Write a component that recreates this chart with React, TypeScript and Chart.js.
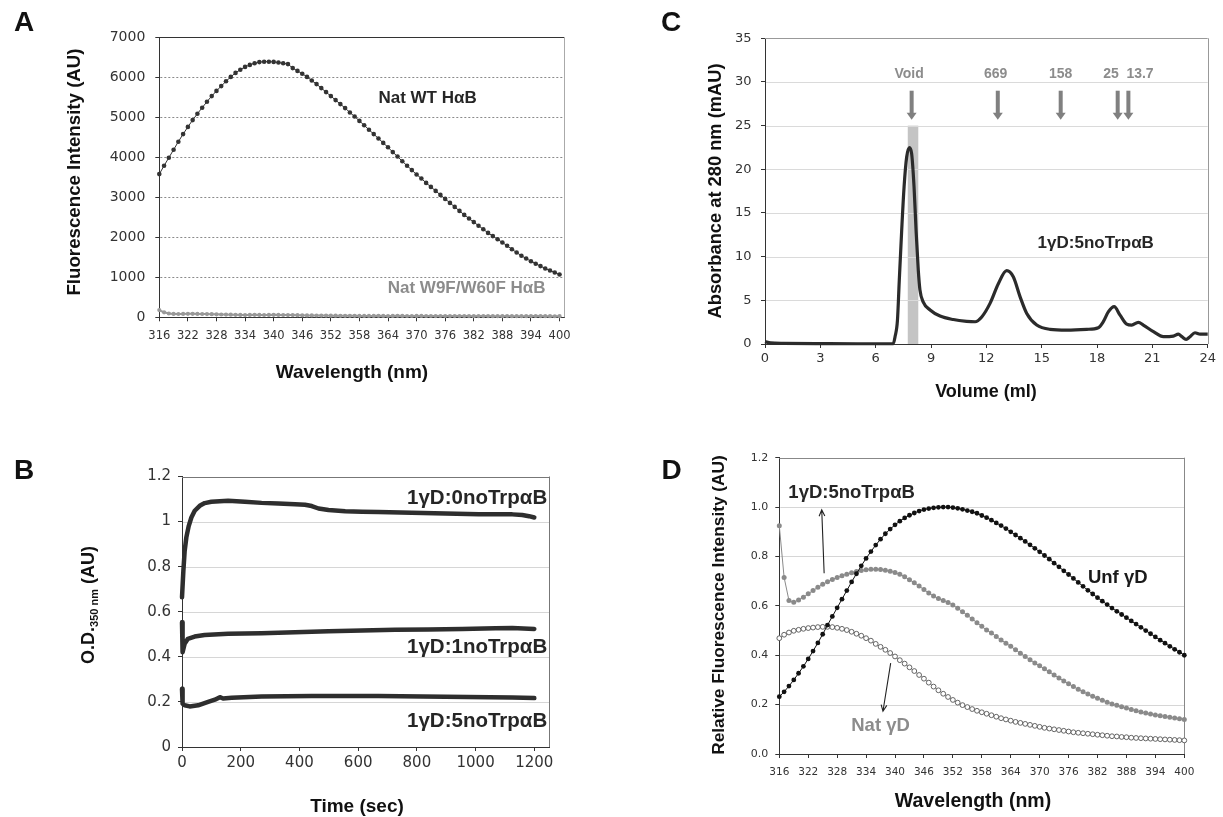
import React, { useEffect, useRef } from "react";
import { Chart, registerables } from "chart.js";
Chart.register(...registerables);

const FONT = '"Liberation Sans", Arial, Helvetica, sans-serif';
const TFONT = '"DejaVu Sans", Verdana, sans-serif';

// ---------------- Panel A ----------------
const wavelengths = [
  316, 317, 318, 319, 320, 321, 322, 323, 324, 325,
  326, 327, 328, 329, 330, 331, 332, 333, 334, 335,
  336, 337, 338, 339, 340, 341, 342, 343, 344, 345,
  346, 347, 348, 349, 350, 351, 352, 353, 354, 355,
  356, 357, 358, 359, 360, 361, 362, 363, 364, 365,
  366, 367, 368, 369, 370, 371, 372, 373, 374, 375,
  376, 377, 378, 379, 380, 381, 382, 383, 384, 385,
  386, 387, 388, 389, 390, 391, 392, 393, 394, 395,
  396, 397, 398, 399, 400,
];
const natWT = [
  3580, 3790, 3990, 4190, 4390, 4580, 4760, 4930, 5090, 5240,
  5390, 5530, 5660, 5780, 5900, 6010, 6110, 6190, 6260, 6310,
  6350, 6380, 6390, 6390, 6385, 6370, 6350, 6330, 6230, 6160,
  6090, 6010, 5920, 5830, 5730, 5630, 5530, 5430, 5330, 5230,
  5120, 5020, 4910, 4800, 4690, 4580, 4470, 4360, 4250, 4130,
  4020, 3900, 3790, 3680, 3570, 3470, 3360, 3260, 3160, 3060,
  2960, 2860, 2760, 2660, 2560, 2470, 2380, 2290, 2200, 2110,
  2030, 1950, 1870, 1790, 1700, 1620, 1540, 1470, 1400, 1340,
  1280, 1220, 1170, 1120, 1070,
];
const natW9F = [
  180, 125, 95, 85, 82, 84, 86, 88, 85, 82,
  80, 78, 74, 70, 68, 65, 62, 60, 58, 60,
  62, 60, 58, 60, 62, 60, 58, 56, 55, 52,
  50, 48, 46, 45, 44, 42, 40, 40, 38, 38,
  36, 36, 35, 35, 34, 35, 36, 34, 33, 35,
  36, 34, 33, 32, 34, 35, 33, 32, 31, 32,
  33, 31, 30, 30, 31, 30, 29, 30, 31, 30,
  29, 28, 29, 30, 29, 28, 27, 28, 30, 32,
  30, 28, 27, 26, 28,
];
const xTicksA = [316, 322, 328, 334, 340, 346, 352, 358, 364, 370, 376, 382, 388, 394, 400];
const yTicksA = [0, 1000, 2000, 3000, 4000, 5000, 6000, 7000];
const yLabelsA = ["0", "1000", "2000", "3000", "4000", "5000", "6000", "7000"];

// ---------------- Panel B ----------------
const timeTop = [0, 4.6, 9.1, 14.8, 22.8, 31.9, 43.3, 60.3, 77.4, 100, 157, 214, 271, 328, 385, 419, 442, 465, 499, 556, 613, 669, 783, 897, 1011, 1125, 1159, 1182, 1200];
const odTop = [0.664, 0.78, 0.87, 0.93, 0.98, 1.018, 1.048, 1.07, 1.082, 1.088, 1.092, 1.088, 1.083, 1.08, 1.077, 1.075, 1.069, 1.058, 1.051, 1.046, 1.044, 1.042, 1.039, 1.036, 1.033, 1.032, 1.029, 1.024, 1.018];
const timeMid = [0, 1, 3, 9, 20, 43, 77, 157, 271, 385, 499, 613, 726, 840, 954, 1068, 1125, 1200];
const odMid = [0.553, 0.47, 0.42, 0.458, 0.48, 0.49, 0.497, 0.502, 0.505, 0.509, 0.514, 0.517, 0.52, 0.521, 0.524, 0.527, 0.528, 0.524];
const timeBot = [0, 2, 9, 26, 55, 89, 112, 129, 140, 169, 271, 442, 669, 897, 1125, 1200];
const odBot = [0.258, 0.192, 0.185, 0.18, 0.185, 0.2, 0.21, 0.221, 0.215, 0.218, 0.224, 0.226, 0.226, 0.223, 0.22, 0.217];
const xTicksB = [0, 200, 400, 600, 800, 1000, 1200];
const yTicksB = [0, 0.2, 0.4, 0.6, 0.8, 1, 1.2];
const yLabelsB = ["0", "0.2", "0.4", "0.6", "0.8", "1", "1.2"];
const seriesLabelsB = ["1γD:0noTrpαB", "1γD:1noTrpαB", "1γD:5noTrpαB"];

// ---------------- Panel C ----------------
const volC = [0, 0.3, 1, 3, 5, 6.5, 6.96, 7.05, 7.18, 7.28, 7.41, 7.54, 7.68, 7.83, 7.95, 8.08, 8.19, 8.31, 8.4, 8.58, 8.95, 9.49, 10.21, 10.93, 11.39, 11.75, 12.2, 12.65, 13.1, 13.46, 13.83, 14.19, 14.73, 15.45, 16.36, 17.44, 18.07, 18.34, 18.62, 18.93, 19.25, 19.61, 19.88, 20.24, 20.51, 21.06, 21.6, 22.14, 22.41, 22.6, 22.83, 23.04, 23.31, 23.59, 24];
const absC = [0.27, 0.12, 0.08, 0.05, 0.03, 0.03, 0.05, 0.84, 2.7, 7.3, 13, 18, 21.4, 22.5, 21.8, 18, 13, 8.45, 6.2, 4.8, 3.9, 3.2, 2.8, 2.6, 2.55, 3.1, 4.65, 6.9, 8.4, 7.7, 5.4, 3.5, 2.17, 1.68, 1.6, 1.68, 1.87, 2.55, 3.7, 4.27, 3.3, 2.28, 2.17, 2.48, 2.17, 1.41, 0.84, 0.91, 1.14, 0.84, 0.53, 0.84, 1.29, 1.14, 1.14];
const markerNames = ["Void", "669", "158", "25", "13.7"];
const markerVolumes = [7.95, 12.62, 16.03, 19.12, 19.7];
const markerLabelX = [7.81, 12.5, 16.03, 18.76, 20.33];
const voidBand = [7.74, 8.31];
const xTicksC = [0, 3, 6, 9, 12, 15, 18, 21, 24];
const yTicksC = [0, 5, 10, 15, 20, 25, 30, 35];

// ---------------- Panel D ----------------
const unfGD = [
  0.232, 0.252, 0.275, 0.3, 0.327, 0.355, 0.385, 0.417, 0.45, 0.485,
  0.522, 0.557, 0.592, 0.627, 0.662, 0.697, 0.73, 0.762, 0.792, 0.82,
  0.846, 0.87, 0.892, 0.911, 0.928, 0.943, 0.956, 0.967, 0.976, 0.984,
  0.99, 0.994, 0.997, 0.999, 1.0, 1.0, 0.998, 0.995, 0.991, 0.986,
  0.981, 0.975, 0.966, 0.957, 0.947, 0.936, 0.925, 0.913, 0.9, 0.887,
  0.874, 0.861, 0.847, 0.833, 0.819, 0.804, 0.789, 0.773, 0.758, 0.742,
  0.727, 0.711, 0.695, 0.679, 0.663, 0.648, 0.633, 0.619, 0.605, 0.591,
  0.578, 0.565, 0.552, 0.539, 0.526, 0.513, 0.5, 0.487, 0.474, 0.461,
  0.449, 0.436, 0.424, 0.412, 0.4,
];
const mix15 = [
  0.924, 0.715, 0.622, 0.615, 0.624, 0.635, 0.649, 0.662, 0.675, 0.687,
  0.698, 0.707, 0.715, 0.722, 0.728, 0.734, 0.739, 0.743, 0.746, 0.748,
  0.748, 0.747, 0.744, 0.74, 0.735, 0.728, 0.718, 0.706, 0.694, 0.68,
  0.666, 0.652, 0.64, 0.63, 0.622, 0.614, 0.603, 0.59, 0.576, 0.562,
  0.547, 0.532, 0.517, 0.502, 0.49, 0.476, 0.462, 0.449, 0.436, 0.422,
  0.408, 0.395, 0.382, 0.369, 0.357, 0.345, 0.333, 0.32, 0.308, 0.296,
  0.285, 0.273, 0.262, 0.252, 0.243, 0.234, 0.226, 0.218, 0.21, 0.203,
  0.197, 0.191, 0.186, 0.18, 0.175, 0.17, 0.166, 0.162, 0.158, 0.155,
  0.152, 0.149, 0.146, 0.143, 0.14,
];
const natGD = [
  0.469, 0.483, 0.492, 0.499, 0.503, 0.507, 0.51, 0.512, 0.514, 0.515,
  0.515, 0.514, 0.511, 0.507, 0.502, 0.495, 0.487, 0.479, 0.469, 0.459,
  0.446, 0.434, 0.422, 0.409, 0.395, 0.38, 0.366, 0.351, 0.336, 0.32,
  0.305, 0.289, 0.273, 0.258, 0.244, 0.231, 0.219, 0.208, 0.198, 0.19,
  0.182, 0.175, 0.169, 0.163, 0.157, 0.151, 0.145, 0.14, 0.135, 0.13,
  0.126, 0.122, 0.118, 0.114, 0.11, 0.106, 0.103, 0.1, 0.097, 0.094,
  0.091, 0.088, 0.086, 0.084, 0.082, 0.08, 0.078, 0.076, 0.074, 0.072,
  0.071, 0.069, 0.068, 0.066, 0.065, 0.064, 0.063, 0.062, 0.061, 0.06,
  0.059, 0.058, 0.057, 0.056, 0.055,
];
const yTicksD = [0, 0.2, 0.4, 0.6, 0.8, 1.0, 1.2];
const yLabelsD = ["0.0", "0.2", "0.4", "0.6", "0.8", "1.0", "1.2"];

// ---------------- helpers ----------------
const toXY = (xs: number[], ys: number[]) => xs.map((x, i) => ({ x, y: ys[i] }));

function makePlugin(cfg: any) {
  return {
    id: "panel",
    beforeDatasetsDraw(chart: any) {
      const { ctx, chartArea: a } = chart;
      const xs = chart.scales.x, ys = chart.scales.y;
      ctx.save();
      for (const b of cfg.bands || []) {
        const x1 = xs.getPixelForValue(b.x1), x2 = xs.getPixelForValue(b.x2);
        const y1 = ys.getPixelForValue(b.top), y0 = ys.getPixelForValue(0);
        ctx.fillStyle = b.color;
        ctx.fillRect(x1, y1, x2 - x1, y0 - y1);
      }
      ctx.lineWidth = 1;
      ctx.strokeStyle = cfg.gridColor;
      ctx.setLineDash(cfg.gridDash || []);
      for (const v of cfg.gridValues || []) {
        const py = Math.round(ys.getPixelForValue(v)) + 0.5;
        ctx.beginPath();
        ctx.moveTo(a.left + 1, py);
        ctx.lineTo(a.right, py);
        ctx.stroke();
      }
      ctx.setLineDash([]);
      if (cfg.topColor) {
        ctx.strokeStyle = cfg.topColor;
        ctx.beginPath();
        ctx.moveTo(a.left, Math.round(a.top) + 0.5);
        ctx.lineTo(a.right, Math.round(a.top) + 0.5);
        ctx.stroke();
      }
      if (cfg.rightColor) {
        ctx.strokeStyle = cfg.rightColor;
        ctx.beginPath();
        ctx.moveTo(Math.round(a.right) + 0.5, a.top);
        ctx.lineTo(Math.round(a.right) + 0.5, a.bottom);
        ctx.stroke();
      }
      ctx.restore();
    },
    afterDatasetsDraw(chart: any) {
      const { ctx } = chart;
      const xs = chart.scales.x, ys = chart.scales.y;
      ctx.save();
      for (const t of cfg.texts || []) {
        ctx.font = `bold ${t.size}px ${FONT}`;
        ctx.fillStyle = t.color;
        ctx.textAlign = t.align || "center";
        ctx.textBaseline = "middle";
        ctx.fillText(t.text, xs.getPixelForValue(t.x), ys.getPixelForValue(t.y));
      }
      for (const ar of cfg.arrows || []) {
        const x1 = xs.getPixelForValue(ar.x1), y1 = ys.getPixelForValue(ar.y1);
        const x2 = xs.getPixelForValue(ar.x2), y2 = ys.getPixelForValue(ar.y2);
        ctx.strokeStyle = "#222";
        ctx.lineWidth = 1.1;
        ctx.beginPath();
        ctx.moveTo(x1, y1);
        ctx.lineTo(x2, y2);
        const ang = Math.atan2(y2 - y1, x2 - x1);
        const hl = 7, sp = 0.42;
        ctx.moveTo(x2 - hl * Math.cos(ang - sp), y2 - hl * Math.sin(ang - sp));
        ctx.lineTo(x2, y2);
        ctx.lineTo(x2 - hl * Math.cos(ang + sp), y2 - hl * Math.sin(ang + sp));
        ctx.stroke();
      }
      for (const ba of cfg.blockArrows || []) {
        const px = xs.getPixelForValue(ba.x);
        const yTop = ys.getPixelForValue(ba.from), yTip = ys.getPixelForValue(ba.to);
        const hh = 7;
        ctx.fillStyle = ba.color;
        ctx.fillRect(px - 2, yTop, 4, yTip - hh - yTop + 0.5);
        ctx.beginPath();
        ctx.moveTo(px - 5, yTip - hh);
        ctx.lineTo(px + 5, yTip - hh);
        ctx.lineTo(px, yTip);
        ctx.closePath();
        ctx.fill();
      }
      ctx.restore();
    },
    afterDraw(chart: any) {
      const { ctx } = chart;
      ctx.save();
      ctx.fillStyle = "#111";
      ctx.textBaseline = "middle";
      ctx.textAlign = "center";
      const L = cfg.letter;
      ctx.font = `bold ${L.size}px ${FONT}`;
      ctx.fillText(L.text, L.x, L.y);
      const xt = cfg.xTitle;
      ctx.font = `bold ${xt.size}px ${FONT}`;
      ctx.fillText(xt.text, xt.x, xt.y);
      const yt = cfg.yTitle;
      ctx.translate(yt.x, yt.y);
      ctx.rotate(-Math.PI / 2);
      if (yt.segments) {
        let total = 0;
        for (const s of yt.segments) {
          ctx.font = `bold ${s.size}px ${FONT}`;
          total += ctx.measureText(s.text).width;
        }
        let cx = -total / 2;
        ctx.textAlign = "left";
        ctx.textBaseline = "alphabetic";
        for (const s of yt.segments) {
          ctx.font = `bold ${s.size}px ${FONT}`;
          ctx.fillText(s.text, cx, 6.5 + (s.dy || 0));
          cx += ctx.measureText(s.text).width;
        }
      } else {
        ctx.font = `bold ${yt.size}px ${FONT}`;
        ctx.fillText(yt.text, 0, 0);
      }
      ctx.restore();
    },
  };
}

function makeScales(p: any) {
  return {
    x: {
      type: "linear",
      min: p.xMin,
      max: p.xMax,
      afterBuildTicks: (s: any) => { s.ticks = p.xTicks.map((v: number) => ({ value: v })); },
      afterFit: (s: any) => { s.height = p.xAxisH; },
      grid: { display: true, drawOnChartArea: false, drawTicks: true, tickLength: 4, tickColor: "#333", tickWidth: 1 },
      border: { display: true, color: "#333", width: 1 },
      ticks: {
        autoSkip: false, maxRotation: 0, padding: p.xPad, color: "#333",
        font: { family: TFONT, size: p.xTickSize },
        callback: (v: any, i: number) => (p.xLabels ? p.xLabels[i] : String(p.xTicks[i])),
      },
    },
    y: {
      type: "linear",
      min: p.yMin,
      max: p.yMax,
      afterBuildTicks: (s: any) => { s.ticks = p.yTicks.map((v: number) => ({ value: v })); },
      afterFit: (s: any) => { s.width = p.yAxisW; },
      grid: { display: true, drawOnChartArea: false, drawTicks: true, tickLength: 4, tickColor: "#333", tickWidth: 1 },
      border: { display: true, color: "#333", width: 1 },
      ticks: {
        autoSkip: false, padding: p.yPad, color: "#333",
        font: { family: TFONT, size: p.yTickSize },
        callback: (v: any, i: number) => (p.yLabels ? p.yLabels[i] : String(p.yTicks[i])),
      },
    },
  };
}

function baseOptions(p: any) {
  return {
    responsive: false,
    animation: false,
    devicePixelRatio: 1,
    events: [],
    layout: { padding: { left: 0, bottom: 0, top: p.padTop, right: p.padRight } },
    plugins: { legend: { display: false }, tooltip: { enabled: false }, title: { display: false } },
    scales: makeScales(p),
  };
}

// ---------------- chart builders ----------------
function buildA() {
  const p = {
    xMin: 316, xMax: 401, xTicks: xTicksA, xAxisH: 92.7, xPad: 8, xTickSize: 11.5,
    yMin: 0, yMax: 7000, yTicks: yTicksA, yLabels: yLabelsA, yAxisW: 159.3, yPad: 10, yTickSize: 14,
    padTop: 37.3, padRight: 55.7,
  };
  return {
    type: "line",
    data: {
      datasets: [
        { data: toXY(wavelengths, natWT), borderColor: "#333", borderWidth: 1, pointRadius: 2.3, pointBorderWidth: 0, pointBackgroundColor: "#333", clip: false },
        { data: toXY(wavelengths, natW9F), borderColor: "#999", borderWidth: 2, pointRadius: 2.1, pointBorderWidth: 0, pointBackgroundColor: "#999", clip: false },
      ],
    },
    options: baseOptions(p),
    plugins: [makePlugin({
      gridValues: [1000, 2000, 3000, 4000, 5000, 6000], gridColor: "#8a8a8a", gridDash: [2, 2],
      topColor: "#333", rightColor: "#aaa",
      texts: [
        { text: "Nat WT HαB", x: 372.3, y: 5480, size: 17, color: "#262626" },
        { text: "Nat W9F/W60F HαB", x: 380.5, y: 720, size: 17, color: "#8c8c8c" },
      ],
      letter: { text: "A", x: 24, y: 23, size: 28 },
      xTitle: { text: "Wavelength (nm)", x: 352, y: 373, size: 19 },
      yTitle: { text: "Fluorescence Intensity (AU)", x: 75, y: 172, size: 18.7 },
    })],
  };
}

function buildB() {
  const p = {
    xMin: 0, xMax: 1250, xTicks: xTicksB, xAxisH: 70, xPad: 3, xTickSize: 15,
    yMin: 0, yMax: 1.2, yTicks: yTicksB, yLabels: yLabelsB, yAxisW: 182, yPad: 7, yTickSize: 15,
    padTop: 66.5, padRight: 71,
  };
  const line = { borderColor: "#2e2e2e", borderWidth: 4.5, pointRadius: 0, borderJoinStyle: "round", borderCapStyle: "round", clip: false };
  return {
    type: "line",
    data: {
      datasets: [
        { ...line, data: toXY(timeTop, odTop) },
        { ...line, data: toXY(timeMid, odMid) },
        { ...line, data: toXY(timeBot, odBot) },
      ],
    },
    options: baseOptions(p),
    plugins: [makePlugin({
      gridValues: [0.2, 0.4, 0.6, 0.8, 1.0], gridColor: "#d6d6d6",
      topColor: "#777", rightColor: "#777",
      texts: [
        { text: seriesLabelsB[0], x: 1244, y: 1.104, size: 20.5, color: "#262626", align: "right" },
        { text: seriesLabelsB[1], x: 1244, y: 0.44, size: 20.5, color: "#262626", align: "right" },
        { text: seriesLabelsB[2], x: 1244, y: 0.115, size: 20.5, color: "#262626", align: "right" },
      ],
      letter: { text: "B", x: 24, y: 61, size: 28 },
      xTitle: { text: "Time (sec)", x: 357, y: 397, size: 19 },
      yTitle: {
        x: 87, y: 195,
        segments: [
          { text: "O.D.", size: 18 },
          { text: "350 nm", size: 11, dy: 4 },
          { text: " (AU)", size: 18 },
        ],
      },
    })],
  };
}

function buildC() {
  const p = {
    xMin: 0, xMax: 24, xTicks: xTicksC, xAxisH: 66, xPad: 2.5, xTickSize: 13,
    yMin: 0, yMax: 35, yTicks: yTicksC, yAxisW: 145, yPad: 9.4, yTickSize: 13,
    padTop: 38.3, padRight: 15.3,
  };
  const gray = "#8c8c8c";
  return {
    type: "line",
    data: {
      datasets: [
        { data: toXY(volC, absC), borderColor: "#2b2b2b", borderWidth: 3.2, pointRadius: 0, cubicInterpolationMode: "monotone", clip: false },
      ],
    },
    options: baseOptions(p),
    plugins: [makePlugin({
      bands: [{ x1: voidBand[0], x2: voidBand[1], top: 25, color: "#c4c4c4" }],
      gridValues: [5, 10, 15, 20, 25, 30], gridColor: "#dadada",
      topColor: "#999", rightColor: "#999",
      texts: [
        ...markerNames.map((n, i) => ({ text: n, x: markerLabelX[i], y: 30.85, size: 14, color: gray })),
        { text: "1γD:5noTrpαB", x: 17.93, y: 11.58, size: 17, color: "#262626" },
      ],
      blockArrows: markerVolumes.map((v) => ({ x: v, from: 29.0, to: 25.67, color: "#808080" })),
      letter: { text: "C", x: 51, y: 23, size: 28 },
      xTitle: { text: "Volume (ml)", x: 366, y: 391.7, size: 18 },
      yTitle: { text: "Absorbance at 280 nm (mAU)", x: 96, y: 191, size: 18.3 },
    })],
  };
}

function buildD() {
  const p = {
    xMin: 316, xMax: 400, xTicks: xTicksA, xAxisH: 63, xPad: 8.4, xTickSize: 10.5,
    yMin: 0, yMax: 1.2, yTicks: yTicksD, yLabels: yLabelsD, yAxisW: 159.3, yPad: 7, yTickSize: 11,
    padTop: 47.7, padRight: 38.7,
  };
  return {
    type: "line",
    data: {
      datasets: [
        { data: toXY(wavelengths, unfGD), borderColor: "#111", borderWidth: 1, pointRadius: 2.4, pointBorderWidth: 0, pointBackgroundColor: "#111", clip: false },
        { data: toXY(wavelengths, mix15), borderColor: "#8a8a8a", borderWidth: 1, pointRadius: 2.5, pointBorderWidth: 0, pointBackgroundColor: "#8a8a8a", clip: false },
        { data: toXY(wavelengths, natGD), borderColor: "#777", borderWidth: 0.8, pointRadius: 2.4, pointBorderWidth: 0.9, pointBorderColor: "#555", pointBackgroundColor: "#fff", clip: false },
      ],
    },
    options: baseOptions(p),
    plugins: [makePlugin({
      gridValues: [0.2, 0.4, 0.6, 0.8, 1.0], gridColor: "#d6d6d6",
      topColor: "#888", rightColor: "#888",
      texts: [
        { text: "1γD:5noTrpαB", x: 331.0, y: 1.056, size: 18.5, color: "#262626" },
        { text: "Unf γD", x: 386.2, y: 0.712, size: 18.5, color: "#1a1a1a" },
        { text: "Nat γD", x: 337.0, y: 0.112, size: 18.5, color: "#8c8c8c" },
      ],
      arrows: [
        { x1: 325.3, y1: 0.732, x2: 324.8, y2: 0.989 },
        { x1: 339.1, y1: 0.368, x2: 337.5, y2: 0.173 },
      ],
      letter: { text: "D", x: 51.5, y: 61.7, size: 28 },
      xTitle: { text: "Wavelength (nm)", x: 353, y: 391.7, size: 19.5 },
      yTitle: { text: "Relative Fluorescence Intensity (AU)", x: 98.8, y: 195, size: 17.3 },
    })],
  };
}

function Panel({ build, left, top, width, height }: any) {
  const ref = useRef<HTMLCanvasElement>(null);
  useEffect(() => {
    const chart = new Chart(ref.current as HTMLCanvasElement, build() as any);
    return () => chart.destroy();
  }, [build]);
  return (
    <canvas
      ref={ref}
      width={width}
      height={height}
      style={{ position: "absolute", left, top, width, height }}
    />
  );
}

export default function App() {
  return (
    <div style={{ position: "absolute", left: 0, top: 0, width: 1223, height: 817, background: "#fff", overflow: "hidden" }}>
      <Panel build={buildA} left={0} top={0} width={620} height={410} />
      <Panel build={buildC} left={620} top={0} width={603} height={410} />
      <Panel build={buildB} left={0} top={410} width={620} height={407} />
      <Panel build={buildD} left={620} top={410} width={603} height={407} />
    </div>
  );
}
